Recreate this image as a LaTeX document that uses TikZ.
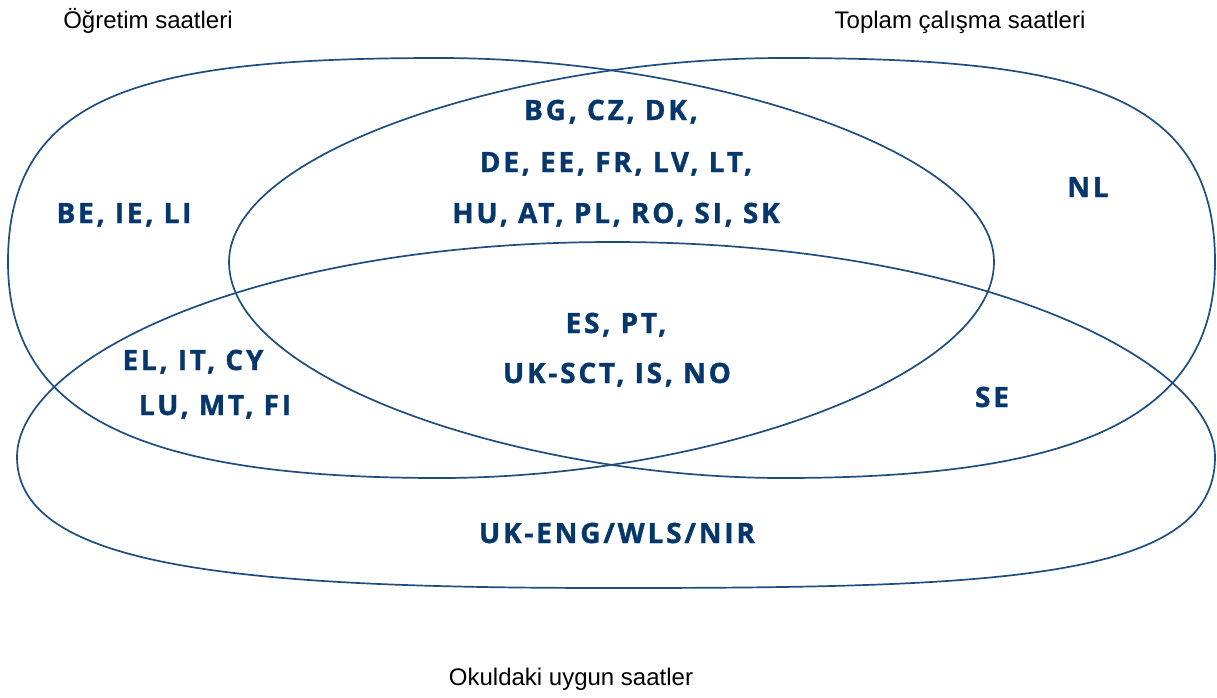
\documentclass[tikz,border=0pt]{standalone}
\usepackage{fontspec}
\setmainfont{Liberation Sans}
\newfontfamily\labfont[LetterSpace=10,BoldFeatures={FakeBold=1.2}]{Open Sans}
\definecolor{vline}{RGB}{30,78,128}
\definecolor{vtext}{RGB}{5,55,108}
\tikzset{
  venn/.style={draw=vline, line width=1.7pt},
  lab/.style={font=\labfont\bfseries\fontsize{28}{28}\selectfont, text=vtext, inner sep=0pt, anchor=base},
  ttl/.style={font=\fontsize{24}{24}\selectfont, text=black, inner sep=0pt, anchor=base}
}
\begin{document}
\begin{tikzpicture}[x=1pt,y=-1pt]
\useasboundingbox (0,0) rectangle (1217,697);
% Set A: Ogretim saatleri
\draw[venn] (8,262) .. controls (8,90) and (150,58) .. (440,58)
  .. controls (700,58) and (994,150) .. (994,262)
  .. controls (994,380) and (700,478) .. (440,478)
  .. controls (150,478) and (8,420) .. cycle;
% Set B: Toplam calisma saatleri
\draw[venn] (1215,262) .. controls (1215,90) and (1073,58) .. (783,58)
  .. controls (523,58) and (229,150) .. (229,262)
  .. controls (229,380) and (523,478) .. (783,478)
  .. controls (1073,478) and (1215,420) .. cycle;
% Set C: Okuldaki uygun saatler
\draw[venn] (17,457) .. controls (17,360) and (250,242) .. (613,242)
  .. controls (976,242) and (1215,360) .. (1215,457)
  .. controls (1215,580) and (1000,588) .. (613,588)
  .. controls (250,588) and (17,570) .. cycle;
% titles
\node[ttl] (tA) at (148,28) {Öğretim saatleri};
\node[ttl] (tB) at (960,28) {Toplam çalışma saatleri};
\node[ttl] (tC) at (571,685) {Okuldaki uygun saatler};
% labels
\node[lab] (beie) at (124,223) {BE, IE, LI};
\node[lab] (bg) at (611,120) {BG, CZ, DK,};
\node[lab] (de) at (616,172) {DE, EE, FR, LV, LT,};
\node[lab] (hu) at (616,223) {HU, AT, PL, RO, SI, SK};
\node[lab] (nl) at (1088,197) {NL};
\node[lab] (el) at (193,370) {EL, IT, CY};
\node[lab] (lu) at (215,415) {LU, MT, FI};
\node[lab] (es) at (616,333) {ES, PT,};
\node[lab] (uksct) at (617,383) {UK-SCT, IS, NO};
\node[lab] (ukeng) at (617,543) {UK-ENG/WLS/NIR};
\node[lab] (se) at (992,407) {SE};
\end{tikzpicture}
\end{document}
